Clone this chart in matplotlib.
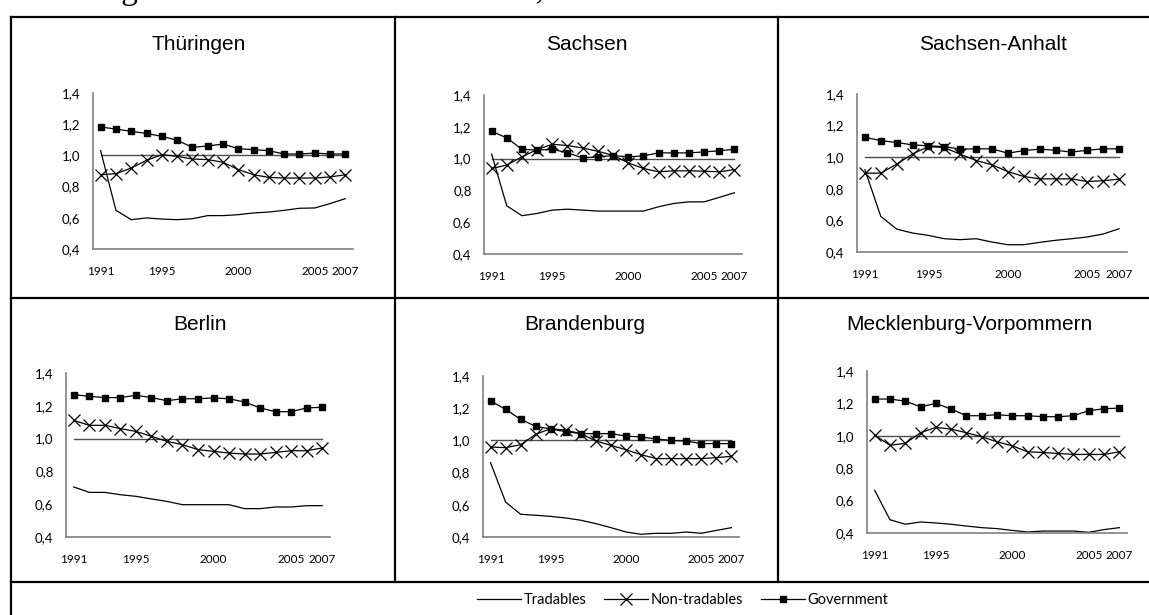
import matplotlib
matplotlib.use("Agg")
import matplotlib.pyplot as plt
from matplotlib.lines import Line2D

W, H = 1149, 615

years = list(range(1991, 2008))
xtick_years = [1991, 1995, 2000, 2005, 2007]
ytick_values = [0.4, 0.6, 0.8, 1.0, 1.2, 1.4]
ytick_labels = ["0,4", "0,6", "0,8", "1,0", "1,2", "1,4"]
west_average = 1.0

series_names = ["Tradables", "Non-tradables", "Government"]
regions = ["Thüringen", "Sachsen", "Sachsen-Anhalt",
           "Berlin", "Brandenburg", "Mecklenburg-Vorpommern"]

thueringen_trad = [1.03, 0.648, 0.588, 0.599, 0.592, 0.588, 0.594, 0.614, 0.614,
                   0.620, 0.631, 0.637, 0.648, 0.661, 0.663, 0.691, 0.723]
thueringen_nontrad = [0.876, 0.883, 0.919, 0.968, 1.005, 0.994, 0.977, 0.973, 0.956,
                      0.909, 0.876, 0.859, 0.855, 0.855, 0.855, 0.862, 0.876]
thueringen_gov = [1.182, 1.169, 1.154, 1.141, 1.122, 1.097, 1.052, 1.060, 1.073,
                  1.043, 1.037, 1.030, 1.009, 1.009, 1.015, 1.009, 1.009]

sachsen_trad = [1.028, 0.703, 0.641, 0.655, 0.676, 0.682, 0.676, 0.670, 0.670,
                0.670, 0.670, 0.697, 0.718, 0.728, 0.728, 0.756, 0.785]
sachsen_nontrad = [0.938, 0.959, 1.011, 1.057, 1.090, 1.082, 1.067, 1.046, 1.021,
                   0.973, 0.938, 0.917, 0.923, 0.923, 0.921, 0.917, 0.931]
sachsen_gov = [1.172, 1.130, 1.059, 1.053, 1.059, 1.036, 1.005, 1.011, 1.019,
               1.011, 1.017, 1.036, 1.036, 1.036, 1.042, 1.049, 1.059]

sachsen_anhalt_trad = [0.92, 0.625, 0.545, 0.520, 0.505, 0.484, 0.478, 0.484, 0.463,
                       0.446, 0.446, 0.461, 0.474, 0.484, 0.495, 0.514, 0.547]
sachsen_anhalt_nontrad = [0.899, 0.899, 0.956, 1.021, 1.067, 1.061, 1.019, 0.979, 0.952,
                          0.909, 0.878, 0.863, 0.863, 0.863, 0.846, 0.851, 0.861]
sachsen_anhalt_gov = [1.126, 1.105, 1.093, 1.078, 1.072, 1.067, 1.051, 1.053, 1.053,
                      1.025, 1.042, 1.051, 1.044, 1.032, 1.044, 1.053, 1.053]

berlin_trad = [0.705, 0.672, 0.672, 0.658, 0.648, 0.632, 0.617, 0.597, 0.597,
               0.597, 0.597, 0.573, 0.573, 0.583, 0.583, 0.591, 0.591]
berlin_nontrad = [1.111, 1.081, 1.081, 1.061, 1.044, 1.014, 0.983, 0.963, 0.933,
                  0.922, 0.912, 0.906, 0.906, 0.916, 0.926, 0.926, 0.943]
berlin_gov = [1.268, 1.258, 1.250, 1.250, 1.264, 1.250, 1.231, 1.243, 1.243,
              1.248, 1.243, 1.223, 1.187, 1.164, 1.164, 1.187, 1.191]

brandenburg_trad = [0.862, 0.617, 0.541, 0.535, 0.528, 0.518, 0.504, 0.483, 0.458,
                    0.431, 0.417, 0.423, 0.423, 0.431, 0.423, 0.441, 0.458]
brandenburg_nontrad = [0.959, 0.955, 0.973, 1.038, 1.073, 1.063, 1.042, 0.996, 0.969,
                       0.942, 0.911, 0.887, 0.887, 0.887, 0.887, 0.893, 0.901]
brandenburg_gov = [1.245, 1.193, 1.131, 1.087, 1.071, 1.054, 1.042, 1.042, 1.042,
                   1.027, 1.021, 1.009, 1.000, 0.996, 0.980, 0.980, 0.980]

mv_trad = [0.664, 0.482, 0.454, 0.468, 0.462, 0.454, 0.443, 0.433, 0.427,
           0.416, 0.406, 0.412, 0.412, 0.412, 0.404, 0.421, 0.433]
mv_nontrad = [1.004, 0.942, 0.953, 1.019, 1.052, 1.041, 1.019, 0.994, 0.963,
              0.938, 0.901, 0.897, 0.891, 0.885, 0.885, 0.885, 0.901]
mv_gov = [1.227, 1.227, 1.214, 1.179, 1.200, 1.165, 1.124, 1.124, 1.130,
          1.124, 1.124, 1.118, 1.118, 1.124, 1.155, 1.167, 1.171]

panel_data = [
    (thueringen_trad, thueringen_nontrad, thueringen_gov),
    (sachsen_trad, sachsen_nontrad, sachsen_gov),
    (sachsen_anhalt_trad, sachsen_anhalt_nontrad, sachsen_anhalt_gov),
    (berlin_trad, berlin_nontrad, berlin_gov),
    (brandenburg_trad, brandenburg_nontrad, brandenburg_gov),
    (mv_trad, mv_nontrad, mv_gov),
]

# layout (pixels): axes box x0, x1, y_top(1.4), y_bottom(0.4); title centre
axes_boxes = [
    (93, 353, 93, 249), (484, 742, 95, 254), (857, 1127, 94, 252),
    (66, 330, 373, 537), (483, 739, 376, 537), (867, 1127, 371, 533),
]
title_pos = [(199, 45), (587, 45), (993, 45), (200, 325), (585, 325), (969, 325)]

def fx(px):
    return px / W

def fy(py):
    return 1 - py / H

fig = plt.figure(figsize=(W / 100, H / 100), dpi=100)

label_font = "Lato"
title_font = "Liberation Sans"
axis_color = "#808080"

for i, (name, data) in enumerate(zip(regions, panel_data)):
    x0, x1, yt, yb = axes_boxes[i]
    ax = fig.add_axes([fx(x0), fy(yb), fx(x1) - fx(x0), fy(yt) - fy(yb)])
    trad, nontrad, gov = data
    ax.plot([years[0], years[-1]], [west_average, west_average],
            color="#4d4d4d", lw=1.0, zorder=1)
    ax.plot(years, trad, color="black", lw=0.9, zorder=2)
    ax.plot(years, nontrad, color="black", lw=0.9, marker="x",
            markersize=8, markeredgewidth=0.9, zorder=3)
    ax.plot(years, gov, color="black", lw=0.9, marker="s",
            markersize=5, zorder=4)
    ax.set_xlim(1990.5, 2007.5)
    ax.set_ylim(0.4, 1.4)
    ax.set_xticks(xtick_years)
    ax.set_xticklabels([str(y) for y in xtick_years], fontfamily=label_font, fontsize=8.5)
    ax.set_yticks(ytick_values)
    ax.set_yticklabels(ytick_labels, fontfamily=label_font, fontsize=9.5)
    ax.tick_params(axis="both", length=0)
    ax.tick_params(axis="x", pad=12)
    ax.tick_params(axis="y", pad=9)
    for s in ["top", "right"]:
        ax.spines[s].set_visible(False)
    for s in ["left", "bottom"]:
        ax.spines[s].set_color(axis_color)
        ax.spines[s].set_linewidth(1.2)
    ax.patch.set_alpha(0)
    tx, ty = title_pos[i]
    fig.text(fx(tx), fy(ty), name, ha="center", va="center",
             fontfamily=title_font, fontsize=15)

# table borders
border_lw = 1.6
h_lines = [(17, 11, W + 5), (298, 11, W + 5), (582, 11, W + 5)]
v_lines = [(11, 17, H + 5), (395, 17, 582), (778, 17, 582)]
for y, xa, xb in h_lines:
    fig.add_artist(Line2D([fx(xa), fx(xb)], [fy(y), fy(y)], color="black",
                          lw=border_lw, transform=fig.transFigure))
for x, ya, yb in v_lines:
    fig.add_artist(Line2D([fx(x), fx(x)], [fy(ya), fy(yb)], color="black",
                          lw=border_lw, transform=fig.transFigure))

# caption text at the top (clipped by the image edge as in the reference)
fig.text(0.0, fy(-1), "the average across West German Länder, 1991-2007",
         ha="left", va="baseline", fontfamily="Liberation Serif", fontsize=24)

# legend
handles = [
    Line2D([], [], color="black", lw=0.9),
    Line2D([], [], color="black", lw=0.9, marker="x", markersize=8, markeredgewidth=0.9),
    Line2D([], [], color="black", lw=0.9, marker="s", markersize=5),
]
fig.legend(handles, series_names, loc="center", bbox_to_anchor=(fx(683), fy(600)),
           ncol=3, frameon=False, prop={"family": label_font, "size": 10.5},
           handlelength=3.0, handletextpad=0.2, columnspacing=1.2)

fig.savefig("out.png", dpi=100)
